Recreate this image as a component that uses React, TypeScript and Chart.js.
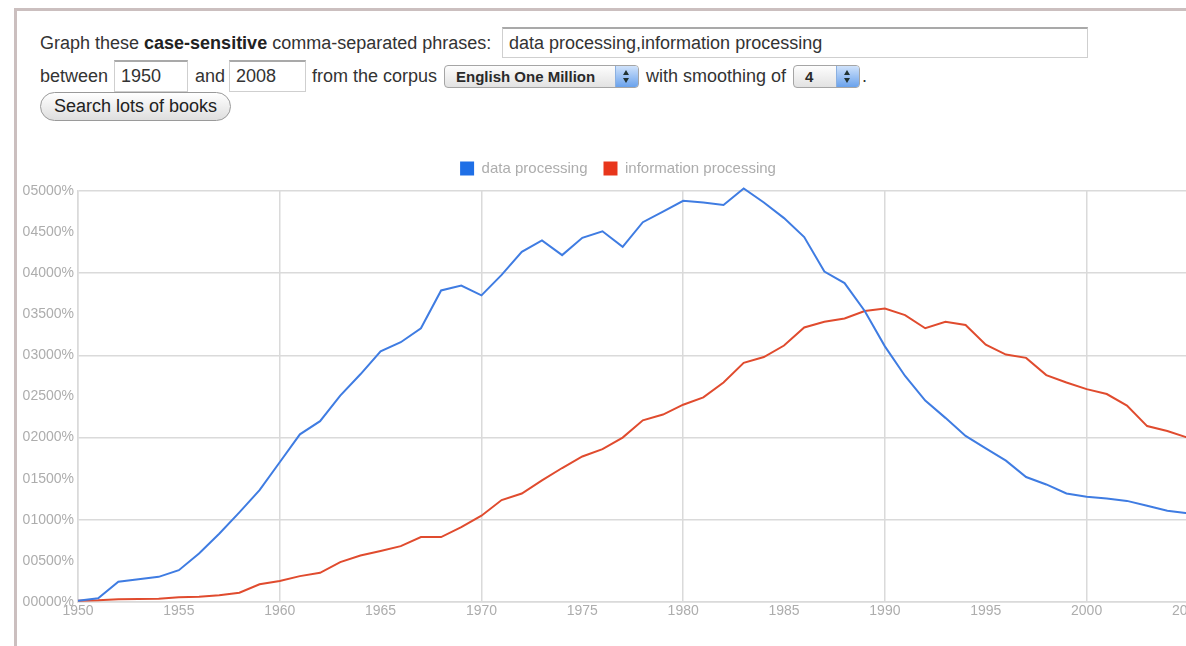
import React, { useEffect, useRef } from "react";
import { Chart, registerables } from "chart.js";

Chart.register(...registerables);

const years = [
  1950, 1951, 1952, 1953, 1954, 1955, 1956, 1957, 1958, 1959,
  1960, 1961, 1962, 1963, 1964, 1965, 1966, 1967, 1968, 1969,
  1970, 1971, 1972, 1973, 1974, 1975, 1976, 1977, 1978, 1979,
  1980, 1981, 1982, 1983, 1984, 1985, 1986, 1987, 1988, 1989,
  1990, 1991, 1992, 1993, 1994, 1995, 1996, 1997, 1998, 1999,
  2000, 2001, 2002, 2003, 2004, 2005,
];

const dataProcessing = [
  0.0000016, 0.0000045, 0.0000246, 0.0000278, 0.0000306, 0.0000387, 0.0000589, 0.0000831, 0.000109, 0.000136,
  0.00017, 0.000204, 0.00022, 0.000251, 0.000277, 0.000305, 0.000316, 0.000333, 0.000379, 0.000385,
  0.000373, 0.000398, 0.000426, 0.00044, 0.000422, 0.000443, 0.000451, 0.000432, 0.000462, 0.000475,
  0.000488, 0.000486, 0.000483, 0.000503, 0.000486, 0.000467, 0.000444, 0.000402, 0.000388, 0.000354,
  0.000311, 0.000275, 0.000245, 0.000224, 0.000202, 0.000187, 0.000172, 0.000152, 0.000143, 0.000132,
  0.000128, 0.000126, 0.000123, 0.000117, 0.000111, 0.000108,
];

const informationProcessing = [
  0.0000016, 0.000002, 0.0000033, 0.0000035, 0.000004, 0.0000057, 0.0000065, 0.0000081, 0.0000113, 0.0000215,
  0.0000255, 0.0000315, 0.0000355, 0.0000485, 0.0000565, 0.000062, 0.000068, 0.000079, 0.000079, 0.000091,
  0.000105, 0.000124, 0.000132, 0.000148, 0.000163, 0.000177, 0.000186, 0.0002, 0.000221, 0.000228,
  0.00024, 0.000249, 0.000267, 0.000291, 0.000298, 0.000312, 0.000334, 0.000341, 0.000345, 0.000354,
  0.000357, 0.000349, 0.000333, 0.000341, 0.000337, 0.000313, 0.000301, 0.000297, 0.000276, 0.000267,
  0.000259, 0.000253, 0.000239, 0.000214, 0.000208, 0.0002,
];

const seriesNames = ["data processing", "information processing"];
const yTickLabels = [
  "00000%", "00500%", "01000%", "01500%", "02000%", "02500%",
  "03000%", "03500%", "04000%", "04500%", "05000%",
];

const LINE_BLUE = "#3f7ce2";
const LINE_RED = "#e04b2e";
const BOX_BLUE = "#1f6fe6";
const BOX_RED = "#e8361c";
const GRID = "#dadada";
const TICK = "#adadad";
const FONT = "'Liberation Sans', Arial, sans-serif";

const CHART_TOP = 150;
const CHART_W = 1248;
const CHART_H = 482;
const LEGEND_DX = -6;
const LEGEND_DY = -5;

const legendShift = {
  id: "legendShift",
  afterLayout(chart: any) {
    const l = chart.legend;
    if (!l) return;
    l.left += LEGEND_DX;
    l.right += LEGEND_DX;
    l.top += LEGEND_DY;
    l.bottom += LEGEND_DY;
  },
};

function NgramChart() {
  const ref = useRef<HTMLCanvasElement | null>(null);
  useEffect(() => {
    if (!ref.current) return;
    const chart = new Chart(ref.current, {
      type: "line",
      data: {
        datasets: [
          {
            label: seriesNames[0],
            data: years.map((y, i) => ({ x: y, y: dataProcessing[i] })),
            borderColor: LINE_BLUE,
            backgroundColor: BOX_BLUE,
            borderWidth: 2,
            pointRadius: 0,
            tension: 0,
            clip: false as any,
          },
          {
            label: seriesNames[1],
            data: years.map((y, i) => ({ x: y, y: informationProcessing[i] })),
            borderColor: LINE_RED,
            backgroundColor: BOX_RED,
            borderWidth: 2,
            pointRadius: 0,
            tension: 0,
            clip: false as any,
          },
        ],
      },
      options: {
        animation: false,
        responsive: false,
        events: [],
        layout: { padding: 0 },
        plugins: {
          tooltip: { enabled: false },
          legend: {
            position: "top",
            labels: {
              boxWidth: 14,
              boxHeight: 14,
              padding: 16,
              color: TICK,
              font: { size: 15, family: FONT },
              generateLabels: (c: any) =>
                c.data.datasets.map((d: any, i: number) => ({
                  text: d.label,
                  fillStyle: d.backgroundColor,
                  strokeStyle: d.backgroundColor,
                  lineWidth: 0,
                  fontColor: TICK,
                  hidden: false,
                  datasetIndex: i,
                })),
            },
          },
        },
        scales: {
          x: {
            type: "linear",
            min: 1950,
            max: 2008,
            afterBuildTicks: (s: any) => {
              s.ticks = s.ticks.filter((t: any) => Math.round(t.value) % 5 === 0);
            },
            afterFit: (s: any) => {
              s.height = 30;
            },
            ticks: {
              stepSize: 5,
              autoSkip: false,
              maxRotation: 0,
              padding: 1,
              color: TICK,
              font: { size: 14, family: FONT },
              callback: (v: any) => String(v),
            },
            grid: {
              drawTicks: false,
              lineWidth: 1.5,
              color: (ctx: any) =>
                ctx.tick && Math.round(ctx.tick.value) % 10 === 0 ? GRID : "rgba(0,0,0,0)",
            },
            border: { display: true, color: GRID, width: 1.5 },
          },
          y: {
            min: 0,
            max: 0.0005,
            afterFit: (s: any) => {
              s.width = 78;
            },
            ticks: {
              stepSize: 0.00005,
              autoSkip: false,
              padding: 4,
              color: TICK,
              font: { size: 14, family: FONT },
              callback: (_v: any, i: number) => yTickLabels[i],
            },
            grid: {
              drawTicks: false,
              lineWidth: 1.5,
              color: (ctx: any) => (ctx.index % 2 === 0 ? GRID : "rgba(0,0,0,0)"),
            },
            border: { display: true, color: GRID, width: 1.5 },
          },
        },
      },
      plugins: [legendShift],
    } as any);
    return () => chart.destroy();
  }, []);
  return (
    <canvas
      ref={ref}
      width={CHART_W}
      height={CHART_H}
      style={{ display: "block", width: CHART_W, height: CHART_H }}
    />
  );
}

const textStyle: React.CSSProperties = {
  position: "absolute",
  fontFamily: FONT,
  fontSize: 18,
  color: "#333",
  whiteSpace: "nowrap",
  lineHeight: "20px",
};

const inputStyle: React.CSSProperties = {
  position: "absolute",
  boxSizing: "border-box",
  border: "1px solid #cfcfcf",
  borderTop: "2px solid #a9a9a9",
  background: "#fff",
  fontFamily: FONT,
  fontSize: 18,
  color: "#333",
  paddingLeft: 6,
  display: "flex",
  alignItems: "center",
  whiteSpace: "nowrap",
};

function FakeSelect({ left, width, text }: { left: number; width: number; text: string }) {
  return (
    <div
      style={{
        position: "absolute",
        left,
        top: 65,
        width,
        height: 23,
        boxSizing: "border-box",
        border: "1px solid #a5a5a5",
        borderRadius: 4,
        background: "linear-gradient(#fdfdfd, #e2e2e2)",
        overflow: "hidden",
      }}
    >
      <div
        style={{
          position: "absolute",
          left: 11,
          top: 0,
          height: 21,
          lineHeight: "21px",
          fontFamily: FONT,
          fontSize: 15,
          fontWeight: "bold",
          color: "#2a2a2a",
          whiteSpace: "nowrap",
        }}
      >
        {text}
      </div>
      <div
        style={{
          position: "absolute",
          right: 0,
          top: 0,
          width: 22,
          height: 21,
          background: "linear-gradient(#cfe2fb, #6aa2ec)",
          borderLeft: "1px solid #8bb0e0",
        }}
      >
        <div style={{ position: "absolute", left: 7, top: 4, width: 0, height: 0, borderLeft: "3.5px solid transparent", borderRight: "3.5px solid transparent", borderBottom: "5px solid #233" }} />
        <div style={{ position: "absolute", left: 7, top: 12, width: 0, height: 0, borderLeft: "3.5px solid transparent", borderRight: "3.5px solid transparent", borderTop: "5px solid #233" }} />
      </div>
    </div>
  );
}

export default function App() {
  return (
    <div style={{ position: "fixed", left: 0, top: 0, width: 1186, height: 646, overflow: "hidden", background: "#fff" }}>
      <div style={{ position: "absolute", left: 14, top: 8, width: 3, height: 646, background: "#cbbfbf" }} />
      <div style={{ position: "absolute", left: 14, top: 8, width: 1172, height: 3, background: "#cbbfbf" }} />

      <div style={{ ...textStyle, left: 40, top: 33 }}>
        Graph these <b style={{ color: "#222" }}>case-sensitive</b> comma-separated phrases:
      </div>
      <div style={{ ...inputStyle, left: 502, top: 27, width: 586, height: 31 }}>
        data processing,information processing
      </div>

      <div style={{ ...textStyle, left: 40, top: 66 }}>between</div>
      <div style={{ ...inputStyle, left: 114, top: 60, width: 74, height: 32 }}>1950</div>
      <div style={{ ...textStyle, left: 195, top: 66 }}>and</div>
      <div style={{ ...inputStyle, left: 229, top: 60, width: 77, height: 32 }}>2008</div>
      <div style={{ ...textStyle, left: 312, top: 66 }}>from the corpus</div>
      <FakeSelect left={444} width={195} text="English One Million" />
      <div style={{ ...textStyle, left: 646, top: 66 }}>with smoothing of</div>
      <FakeSelect left={793} width={67} text="4" />
      <div style={{ ...textStyle, left: 862, top: 66 }}>.</div>

      <div
        style={{
          position: "absolute",
          left: 40,
          top: 92,
          width: 191,
          height: 29,
          boxSizing: "border-box",
          border: "1px solid #9a9a9a",
          borderRadius: 15,
          background: "linear-gradient(#ffffff, #dedede)",
          fontFamily: FONT,
          fontSize: 18,
          color: "#222",
          display: "flex",
          alignItems: "center",
          justifyContent: "center",
          whiteSpace: "nowrap",
        }}
      >
        Search lots of books
      </div>

      <div style={{ position: "absolute", left: 0, top: CHART_TOP, width: CHART_W, height: CHART_H }}>
        <NgramChart />
      </div>
      <div style={{ position: "absolute", left: 14, top: CHART_TOP, width: 3, height: 646 - CHART_TOP, background: "#cbbfbf" }} />
    </div>
  );
}
